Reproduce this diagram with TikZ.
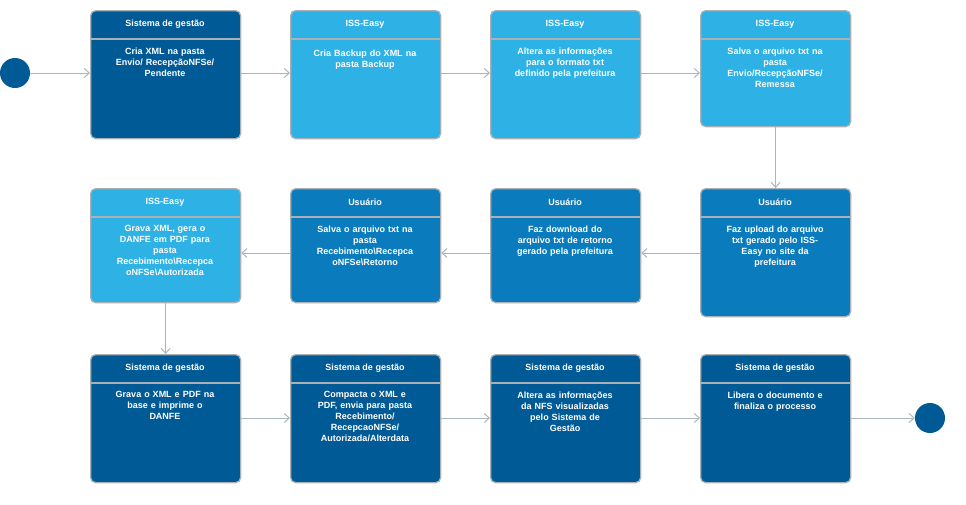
\documentclass[tikz,border=0pt]{standalone}
\usepackage{fontspec}
\setmainfont{Liberation Sans}
\usetikzlibrary{arrows.meta}
\definecolor{dk}{HTML}{005A96}
\definecolor{lt}{HTML}{2EB2E5}
\definecolor{md}{HTML}{0A7CBD}
\definecolor{bd}{HTML}{A9B1B6}
\definecolor{ar}{HTML}{A8B8C0}
\tikzset{
 box/.style={draw=bd,line width=1.3pt,rounded corners=5pt,anchor=north west,inner sep=0pt},
 ttl/.style={anchor=center,font=\bfseries\fontsize{9}{11}\selectfont,text=white},
 bod/.style={anchor=north,font=\bfseries\fontsize{9}{11}\selectfont,text=white,align=center,text width=136pt},
 arr/.style={draw=ar,line width=1pt,-{Straight Barb[length=5pt,width=9pt]}},
 dot/.style={circle,fill=dk,minimum size=30pt,inner sep=0pt}
}
\newcommand\bx[8]{%
 \node[box,fill=#6,minimum width=150pt,minimum height=#5pt] (#1) at (#2pt,-#3pt) {};
 \draw[bd,line width=1.3pt] (#2pt,-#3pt-29pt) -- ++(150pt,0);
 \node[ttl] at (#2pt+75pt,-#3pt-14.5pt) {#7};
 \node[bod] at (#2pt+75pt,-#3pt-34pt) {#8};
}
\begin{document}
\begin{tikzpicture}[x=1pt,y=1pt]
\useasboundingbox (0,0) rectangle (966,-504);
\node[dot] (s) at (15,-73) {};
\node[dot] (e) at (930,-418) {};
\bx{a1}{90}{10}{240}{128}{dk}{Sistema de gestão}{Cria XML na pasta\\Envio/ RecepçãoNFSe/\\Pendente}
\bx{a2}{290}{10}{240}{128}{lt}{ISS-Easy}{\\[-2pt]Cria Backup do XML na\\pasta Backup}
\bx{a3}{490}{10}{240}{128}{lt}{ISS-Easy}{Altera as informações\\para o formato txt\\definido pela prefeitura}
\bx{a4}{700}{10}{240}{116}{lt}{ISS-Easy}{Salva o arquivo txt na\\pasta\\Envio/RecepçãoNFSe/\\Remessa}
\bx{b4}{700}{188}{240}{128}{md}{Usuário}{Faz upload do arquivo\\txt gerado pelo ISS-\\Easy no site da\\prefeitura}
\bx{b3}{490}{188}{240}{114}{md}{Usuário}{Faz download do\\arquivo txt de retorno\\gerado pela prefeitura}
\bx{b2}{290}{188}{240}{114}{md}{Usuário}{Salva o arquivo txt na\\pasta\\Recebimento\textbackslash Recepca\\oNFSe\textbackslash Retorno}
\bx{b1}{90}{188}{240}{114}{lt}{ISS-Easy}{Grava XML, gera o\\DANFE em PDF para\\pasta\\Recebimento\textbackslash Recepca\\oNFSe\textbackslash Autorizada}
\bx{c1}{90}{354}{240}{128}{dk}{Sistema de gestão}{Grava o XML e PDF na\\base e imprime o\\DANFE}
\bx{c2}{290}{354}{240}{128}{dk}{Sistema de gestão}{Compacta o XML e\\PDF, envia para pasta\\Recebimento/\\RecepcaoNFSe/\\Autorizada/Alterdata}
\bx{c3}{490}{354}{240}{128}{dk}{Sistema de gestão}{Altera as informações\\da NFS visualizadas\\pelo Sistema de\\Gestão}
\bx{c4}{700}{354}{240}{128}{dk}{Sistema de gestão}{Libera o documento e\\finaliza o processo}
\draw[arr] (s) -- (s -| a1.west);
\draw[arr] (a1.east |- 0,-73) -- (a2.west |- 0,-73);
\draw[arr] (a2.east |- 0,-73) -- (a3.west |- 0,-73);
\draw[arr] (a3.east |- 0,-73) -- (a4.west |- 0,-73);
\draw[arr] (a4.south) -- (b4.north);
\draw[arr] (b4.west |- 0,-253) -- (b3.east |- 0,-253);
\draw[arr] (b3.west |- 0,-253) -- (b2.east |- 0,-253);
\draw[arr] (b2.west |- 0,-253) -- (b1.east |- 0,-253);
\draw[arr] (b1.south) -- (c1.north);
\draw[arr] (c1.east |- 0,-418) -- (c2.west |- 0,-418);
\draw[arr] (c2.east |- 0,-418) -- (c3.west |- 0,-418);
\draw[arr] (c3.east |- 0,-418) -- (c4.west |- 0,-418);
\draw[arr] (c4.east |- 0,-418) -- (e);
\end{tikzpicture}
\end{document}
